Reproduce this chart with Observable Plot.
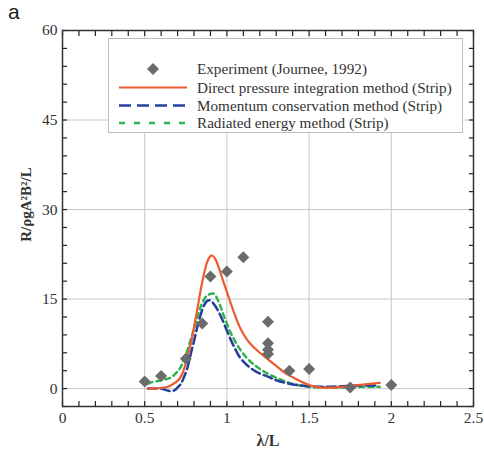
<!DOCTYPE html>
<html>
<head>
<meta charset="utf-8">
<script src="https://cdn.jsdelivr.net/npm/d3@7"></script>
<script src="https://cdn.jsdelivr.net/npm/@observablehq/plot@0.6"></script>
<style>
  body { margin: 0; background: white; }
  #wrap { position: relative; width: 484px; height: 453px; }
  #panel { position: absolute; left: 8px; top: 0px; font-family: "Liberation Sans", Arial, sans-serif; font-size: 21px; color: #222; }
  #legend { position: absolute; left: 108px; top: 38px; }
</style>
</head>
<body>
<div id="wrap"><div id="panel">a</div></div>
<script>
// ---- data ----
const expX = [0.5, 0.6, 0.75, 0.85, 0.9, 1.0, 1.1, 1.25, 1.25, 1.25, 1.25, 1.38, 1.5, 1.75, 2.0];
const expY = [1.2, 2.1, 5.0, 10.9, 18.8, 19.6, 22.0, 11.2, 7.6, 6.5, 5.8, 3.0, 3.3, 0.2, 0.6];

const directX = [0.52, 0.55, 0.6, 0.65, 0.68, 0.7, 0.72, 0.74, 0.76, 0.78, 0.8, 0.82, 0.84, 0.86, 0.88, 0.9, 0.91, 0.93, 0.95, 0.975, 1.0, 1.04, 1.08, 1.12, 1.16, 1.2, 1.25, 1.3, 1.35, 1.4, 1.45, 1.5, 1.55, 1.6, 1.7, 1.8, 1.93];
const directY = [0.0, 0.0, 0.1, 0.4, 0.9, 1.3, 2.0, 3.3, 5.3, 7.5, 10.3, 13.3, 16.4, 19.1, 21.2, 22.2, 22.3, 21.7, 20.3, 18.2, 16.2, 13.0, 10.2, 8.3, 7.0, 6.0, 4.9, 3.8, 2.7, 1.9, 1.2, 0.6, 0.25, 0.15, 0.3, 0.6, 0.95];

const momentumX = [0.52, 0.55, 0.6, 0.65, 0.68, 0.7, 0.72, 0.74, 0.76, 0.78, 0.8, 0.82, 0.84, 0.86, 0.88, 0.895, 0.92, 0.96, 1.0, 1.04, 1.08, 1.12, 1.18, 1.25, 1.3, 1.4, 1.5, 1.6, 1.7, 1.8, 1.92];
const momentumY = [0.0, 0.0, 0.0, -0.4, -0.3, 0.2, 0.8, 2.0, 3.5, 5.8, 8.0, 10.3, 12.3, 13.9, 14.7, 14.8, 14.2, 12.3, 9.7, 7.2, 5.2, 4.0, 2.8, 2.0, 1.4, 0.7, 0.4, 0.3, 0.4, 0.5, 0.5];

const radiatedX = [0.52, 0.535, 0.6, 0.656, 0.68, 0.717, 0.757, 0.78, 0.808, 0.83, 0.849, 0.88, 0.92, 0.95, 0.98, 1.04, 1.122, 1.223, 1.345, 1.43, 1.5, 1.6, 1.7, 1.8, 1.93];
const radiatedY = [0.8, 1.0, 1.4, 1.8, 2.3, 3.5, 6.2, 8.2, 10.7, 12.8, 14.3, 15.6, 15.9, 14.5, 12.3, 8.4, 5.1, 2.9, 1.3, 0.6, 0.3, 0.2, 0.2, 0.3, 0.3];

const xTickLabels = [0, 0.5, 1, 1.5, 2, 2.5];
const yTickLabels = [0, 15, 30, 45, 60];
const xGridVals = [0.5, 1, 1.5, 2];
const yGridVals = [0, 15, 30, 45];
const xMinor = d3.range(26).map(i => i / 10);
const yMinor = d3.range(22).map(i => -3 + 3 * i);

const seriesNames = [
  "Experiment (Journee, 1992)",
  "Direct pressure integration method (Strip)",
  "Momentum conservation method (Strip)",
  "Radiated energy method (Strip)"
];
const colors = { direct: "#ee5a2e", momentum: "#263f9e", radiated: "#2fb24f", exp: "#6b6b6b" };

const toRows = (xs, ys) => xs.map((x, i) => ({ x, y: ys[i] }));
const expRows = toRows(expX, expY);
const directRows = toRows(directX, directY);
const momentumRows = toRows(momentumX, momentumY);
const radiatedRows = toRows(radiatedX, radiatedY);

const serif = "Liberation Serif, DejaVu Serif, Times New Roman, serif";
const W = 484, H = 453, mL = 62, mR = 11, mT = 30, mB = 47;
const xDom = [0, 2.5], yDom = [-3, 60];
const tickLen = 5;
const minorTick = { tickSize: tickLen, tickFormat: () => "", label: null, stroke: "#222", strokeWidth: 1.2 };

const chart = Plot.plot({
  width: W,
  height: H,
  marginLeft: mL,
  marginRight: mR,
  marginTop: mT,
  marginBottom: mB,
  x: { domain: xDom },
  y: { domain: yDom },
  style: { fontFamily: serif, fontSize: "15px", color: "#333", background: "white" },
  marks: [
    Plot.gridX(xGridVals, { stroke: "#c6c6c6", strokeOpacity: 1 }),
    Plot.gridY(yGridVals, { stroke: "#c6c6c6", strokeOpacity: 1 }),
    // inward minor ticks on all four sides (axis ticks shifted into the frame)
    Plot.axisX(xMinor, { ...minorTick, anchor: "bottom", dy: -tickLen }),
    Plot.axisX(xMinor, { ...minorTick, anchor: "top", dy: tickLen }),
    Plot.axisY(yMinor, { ...minorTick, anchor: "left", dx: tickLen }),
    Plot.axisY(yMinor, { ...minorTick, anchor: "right", dx: -tickLen }),
    Plot.axisX(xTickLabels, { anchor: "bottom", tickSize: 0, tickPadding: 5, label: null, tickFormat: d => String(d), fill: "#333", fontFamily: serif, fontSize: 15.5 }),
    Plot.axisY(yTickLabels, { anchor: "left", tickSize: 0, tickPadding: 5, label: null, tickFormat: d => String(d), fill: "#333", fontFamily: serif, fontSize: 15.5 }),
    Plot.line(radiatedRows, { x: "x", y: "y", stroke: colors.radiated, strokeWidth: 2.5, strokeDasharray: "5,4", curve: "catmull-rom" }),
    Plot.line(momentumRows, { x: "x", y: "y", stroke: colors.momentum, strokeWidth: 2.5, strokeDasharray: "9,4", curve: "catmull-rom" }),
    Plot.line(directRows, { x: "x", y: "y", stroke: colors.direct, strokeWidth: 2.2, curve: "catmull-rom" }),
    Plot.dot(expRows, { x: "x", y: "y", symbol: "diamond2", r: 5.4, fill: colors.exp, stroke: "none" }),
    Plot.frame({ stroke: "#333", strokeWidth: 1.5 }),
    Plot.text(["λ/L"], { frameAnchor: "bottom", textAnchor: "middle", dy: 39, fontWeight: "bold", fontSize: 16, fill: "#333", fontFamily: serif }),
    Plot.text(["R/ρgA²B²/L"], { frameAnchor: "left", textAnchor: "middle", rotate: -90, dx: -36, dy: -14, fontWeight: "bold", fontSize: 15, fill: "#333", fontFamily: serif })
  ]
});
document.getElementById("wrap").prepend(chart);

// ---- legend ----
const lg = d3.select("#wrap").append("svg")
  .attr("id", "legend").attr("width", 356).attr("height", 96);
lg.append("rect").attr("x", 0.5).attr("y", 0.5).attr("width", 354).attr("height", 94)
  .attr("fill", "white").attr("stroke", "#bdbdbd").attr("stroke-width", 1);
const rowY = [31, 49.5, 67.5, 85];
lg.append("path").attr("d", d3.symbol(d3.symbolDiamond2, 92)())
  .attr("transform", `translate(45,${rowY[0]})`).attr("fill", colors.exp);
const samples = [
  null,
  { c: colors.direct, dash: null, w: 2.2 },
  { c: colors.momentum, dash: "12,6", w: 2.5 },
  { c: colors.radiated, dash: "6,9", w: 2.5 }
];
samples.forEach((s, i) => {
  if (!s) return;
  lg.append("line").attr("x1", 11).attr("x2", 79).attr("y1", rowY[i]).attr("y2", rowY[i])
    .attr("stroke", s.c).attr("stroke-width", s.w).attr("stroke-dasharray", s.dash);
});
seriesNames.forEach((t, i) => {
  lg.append("text").attr("x", 89).attr("y", rowY[i]).attr("dy", "0.35em")
    .attr("font-family", serif)
    .attr("font-size", 15.2).attr("fill", "#333").text(t);
});
</script>
</body>
</html>
